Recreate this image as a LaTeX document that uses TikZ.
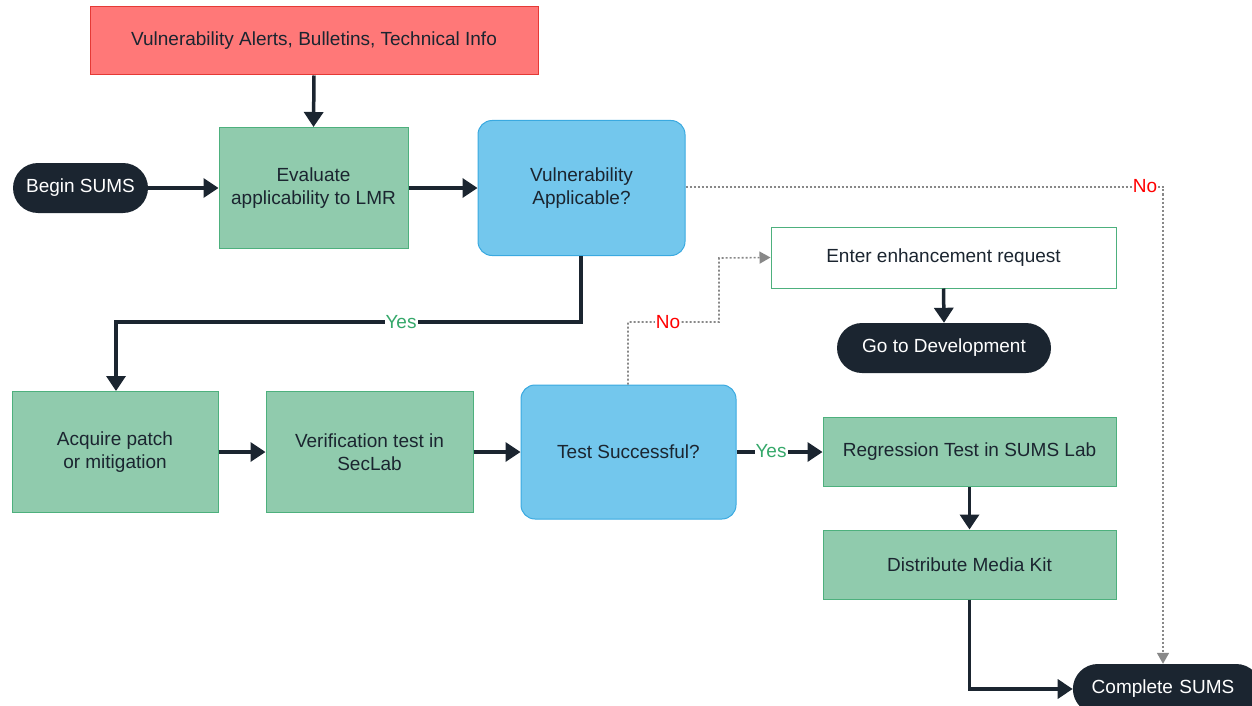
\documentclass[tikz,border=0pt]{standalone}
\usepackage{fontspec}
\setmainfont{Liberation Sans}
\usetikzlibrary{arrows.meta,shapes.misc}
\definecolor{dk}{HTML}{1B2530}
\definecolor{gfill}{HTML}{90CBAD}
\definecolor{gline}{HTML}{4DB07D}
\definecolor{bfill}{HTML}{73C7ED}
\definecolor{bline}{HTML}{3AA9E0}
\definecolor{rfill}{HTML}{FF7878}
\definecolor{rline}{HTML}{E53935}
\definecolor{yesg}{HTML}{35A86A}
\definecolor{dotg}{HTML}{888888}
\tikzset{
  txt/.style={font=\fontsize{19}{23}\selectfont, text=dk, align=center, inner sep=0pt},
  gbox/.style={txt, draw=gline, fill=gfill, line width=1pt},
  bbox/.style={txt, draw=bline, fill=bfill, line width=1pt, rounded corners=14pt},
  wbox/.style={txt, draw=gline, fill=white, line width=1pt},
  rbox/.style={txt, draw=rline, fill=rfill, line width=1pt},
  term/.style={txt, text=white, fill=dk, rounded rectangle},
  flow/.style={line width=3.5pt, draw=dk, -{Triangle[length=15pt,width=19pt]}},
  flowline/.style={line width=3.5pt, draw=dk},
  dflow/.style={line width=1.6pt, draw=dotg, dash pattern=on 2pt off 2pt, -{Triangle[length=11pt,width=12pt]}},
  yeslab/.style={font=\fontsize{19}{23}\selectfont, text=yesg, fill=white, inner sep=1pt},
  nolab/.style={font=\fontsize{19}{23}\selectfont, text=red, fill=white, inner sep=1pt},
}
\begin{document}
\begin{tikzpicture}[x=1pt,y=-1pt]
\useasboundingbox (0,0) rectangle (1252,706);
\begin{scope}
\clip (0,0) rectangle (1252,706);
\node[rbox, minimum width=448pt, minimum height=68pt] (alerts) at (314,41) {Vulnerability Alerts, Bulletins, Technical Info};
\node[term, minimum width=135pt, minimum height=50pt] (begin) at (80.5,188) {Begin SUMS};
\node[gbox, minimum width=189pt, minimum height=121pt] (eval) at (313.5,188) {Evaluate\\applicability to LMR};
\node[bbox, minimum width=207pt, minimum height=135pt] (vuln) at (581.5,188) {Vulnerability\\Applicable?};
\node[wbox, minimum width=345pt, minimum height=61pt] (enter) at (943.5,257.5) {Enter enhancement request};
\node[term, minimum width=214pt, minimum height=50pt] (godev) at (944,348) {Go to Development};
\node[gbox, minimum width=206pt, minimum height=121pt] (acq) at (115,452) {Acquire patch\\or mitigation};
\node[gbox, minimum width=207pt, minimum height=121pt] (verif) at (369.5,452) {Verification test in\\SecLab};
\node[bbox, minimum width=215pt, minimum height=134pt] (test) at (628.5,452) {Test Successful?};
\node[gbox, minimum width=293pt, minimum height=69pt] (regr) at (969.5,452) {Regression Test in SUMS Lab};
\node[gbox, minimum width=293pt, minimum height=69pt] (dist) at (969.5,564.5) {Distribute Media Kit};
\node[term, minimum width=185pt, minimum height=50pt, text width=185pt] (compl) at (1167,689) {\hspace*{-8pt}Complete SUMS};

\draw[flow] (alerts.south) -- (eval.north);
\draw[flow] (begin.east) -- (eval.west);
\draw[flow] (eval.east) -- (vuln.west);
\coordinate (y1) at (581,322);
\coordinate (y2) at (116,322);
\draw[flow] (vuln.south -| y1) -- (y1) -- (y2) -- (acq.north -| y2);
\node[yeslab] (yes1) at (401,322) {Yes};
\draw[flow] (acq.east) -- (verif.west);
\draw[flow] (verif.east) -- (test.west);
\draw[flowline] (test.east) -- (755,452);
\node[yeslab, fill=none] (yes2) at (771,451) {Yes};
\draw[flow] (788,452) -- (regr.west);
\draw[flow] (enter.south) -- (godev.north);
\draw[flow] (regr.south) -- (dist.north);
\draw[flow] (dist.south) |- (compl.west);

\coordinate (nocorner) at (1163,187);
\draw[dflow] (vuln.east |- 0,187) -- (nocorner) -- (compl.north -| 1163,0);
\node[nolab] (no1) at (1145,186) {No};
\coordinate (c1) at (628,322);
\coordinate (c2) at (719,322);
\coordinate (c3) at (719,258);
\draw[dflow] (test.north -| 628,0) -- (c1) -- (c2) -- (c3) -- (enter.west);
\node[nolab] (no2) at (668,322) {No};
\end{scope}
\end{tikzpicture}
\end{document}
